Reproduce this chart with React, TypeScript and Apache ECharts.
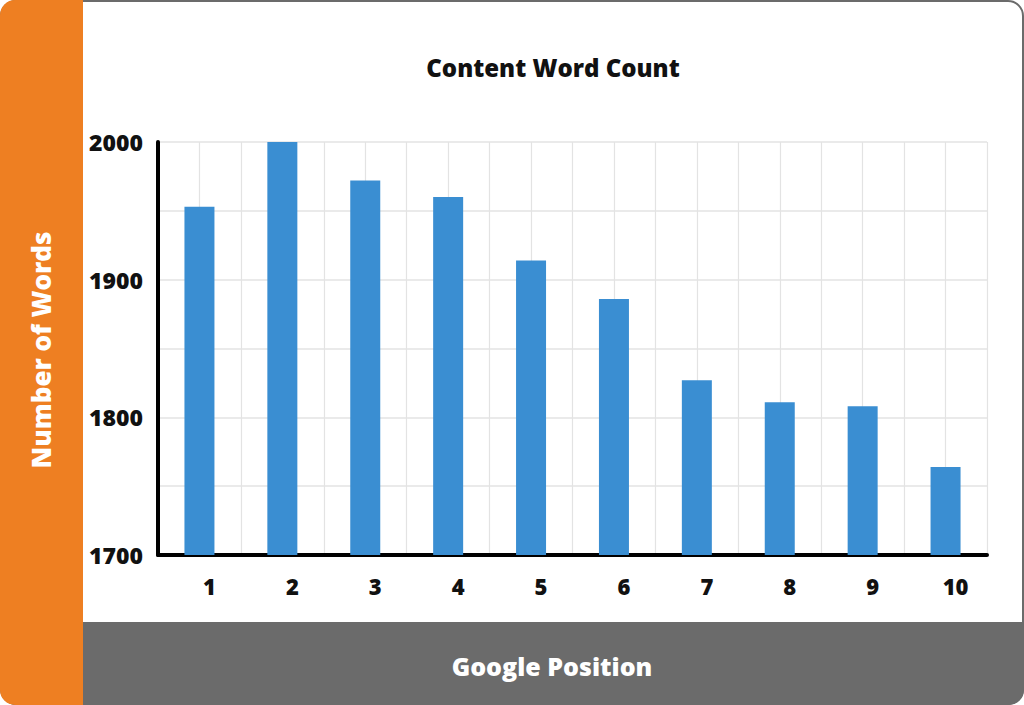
import * as echarts from "echarts";
import { useEffect, useRef } from "react";

const positions = ["1", "2", "3", "4", "5", "6", "7", "8", "9", "10"];
const wordCounts = [1953, 2000, 1972, 1960, 1914, 1886, 1827, 1811, 1808, 1764];
const yTicks = [1700, 1800, 1900, 2000];

const chartTitle = "Content Word Count";
const xTitle = "Google Position";
const yTitle = "Number of Words";

const ORANGE = "#EE7F22";
const GRAY = "#6B6B6B";
const BLUE = "#3A8ED2";
const FONT = "'Open Sans'";

export default function App() {
  const chartRef = useRef<HTMLDivElement>(null);

  useEffect(() => {
    document.body.style.margin = "0";
    if (!chartRef.current) return;

    const chart =
      echarts.getInstanceByDom(chartRef.current) ||
      echarts.init(chartRef.current, undefined, { renderer: "svg" });

    chart.setOption({
      animation: false,
      backgroundColor: "#ffffff",
      textStyle: { fontFamily: FONT },
      graphic: [
        // card outline
        {
          type: "rect",
          z: -10,
          shape: { x: 1, y: 1, width: 1022, height: 703, r: 15 },
          style: { fill: "#ffffff", stroke: GRAY, lineWidth: 2 },
        },
        // left strip
        {
          type: "rect",
          z: -9,
          shape: { x: 0, y: 0, width: 83, height: 705, r: [15, 0, 0, 15] },
          style: { fill: ORANGE },
        },
        // bottom strip
        {
          type: "rect",
          z: -9,
          shape: { x: 83, y: 622, width: 941, height: 83, r: [0, 0, 15, 0] },
          style: { fill: GRAY },
        },
        {
          type: "text",
          x: 553,
          y: 67,
          style: {
            text: chartTitle,
            fill: "#111",
            font: `800 24px ${FONT}`,
            align: "center",
            verticalAlign: "middle",
          },
        },
        {
          type: "text",
          x: 41,
          y: 350,
          rotation: Math.PI / 2,
          style: {
            text: yTitle,
            fill: "#ffffff",
            font: `800 26px ${FONT}`,
            align: "center",
            verticalAlign: "middle",
          },
        },
        {
          type: "text",
          x: 552,
          y: 666,
          style: {
            text: xTitle,
            fill: "#ffffff",
            font: `800 25px ${FONT}`,
            align: "center",
            verticalAlign: "middle",
          },
        },
      ],
      grid: { left: 158, right: 37, top: 142, bottom: 150 },
      xAxis: [
        {
          type: "category",
          data: positions,
          axisTick: { show: false },
          axisLine: { lineStyle: { color: "#000", width: 4 } },
          axisLabel: {
            color: "#111",
            fontWeight: 800,
            fontSize: 22,
            margin: 20,
            padding: [0, 0, 0, 20],
          },
          splitLine: { show: false },
        },
        {
          // vertical grid every half category
          type: "value",
          min: 0,
          max: 20,
          interval: 1,
          show: true,
          axisLine: { show: false },
          axisTick: { show: false },
          axisLabel: { show: false },
          splitLine: { show: true, lineStyle: { color: "#E3E3E3", width: 1.2 } },
        },
      ],
      yAxis: {
        type: "value",
        min: yTicks[0],
        max: yTicks[yTicks.length - 1],
        interval: 50,
        axisLine: { show: true, lineStyle: { color: "#000", width: 4 } },
        axisTick: { show: false },
        axisLabel: {
          color: "#111",
          fontWeight: 800,
          fontSize: 23,
          margin: 15,
          formatter: (v: number) => (yTicks.includes(v) ? String(v) : ""),
        },
        splitLine: { lineStyle: { color: "#E3E3E3", width: 1.5 } },
      },
      series: [
        {
          type: "bar",
          xAxisIndex: 0,
          data: wordCounts,
          barWidth: 30,
          itemStyle: { color: BLUE },
          z: 3,
        },
      ],
    });

    const handleResize = () => chart.resize();
    window.addEventListener("resize", handleResize);
    return () => {
      window.removeEventListener("resize", handleResize);
      chart.dispose();
    };
  }, []);

  return <div ref={chartRef} style={{ width: 1024, height: 705 }} />;
}
